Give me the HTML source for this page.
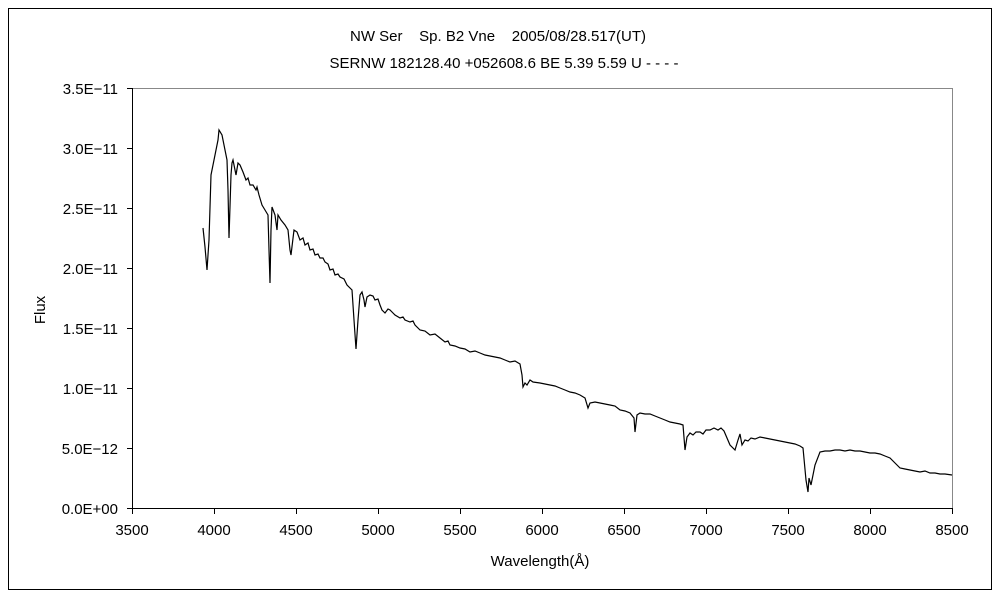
<!DOCTYPE html>
<html><head><meta charset="utf-8"><style>body{margin:0;background:#fff}</style></head><body>
<svg width="1000" height="600" xmlns="http://www.w3.org/2000/svg" font-family="Liberation Sans, sans-serif" font-size="15">
<rect x="0" y="0" width="1000" height="600" fill="#fff"/>
<rect x="8.5" y="8.5" width="983" height="581" fill="none" stroke="#000"/>
<rect x="132.5" y="88.5" width="820" height="420" fill="none" stroke="#888"/>
<line x1="132.5" y1="88" x2="132.5" y2="509" stroke="#000"/>
<line x1="132" y1="508.5" x2="953" y2="508.5" stroke="#000"/>
<g stroke="#000">
<line x1="127" y1="88.5" x2="132" y2="88.5"/><line x1="127" y1="148.5" x2="132" y2="148.5"/><line x1="127" y1="208.5" x2="132" y2="208.5"/><line x1="127" y1="268.5" x2="132" y2="268.5"/><line x1="127" y1="328.5" x2="132" y2="328.5"/><line x1="127" y1="388.5" x2="132" y2="388.5"/><line x1="127" y1="448.5" x2="132" y2="448.5"/><line x1="127" y1="508.5" x2="132" y2="508.5"/>
<line x1="132.5" y1="508" x2="132.5" y2="514"/><line x1="214.5" y1="508" x2="214.5" y2="514"/><line x1="296.5" y1="508" x2="296.5" y2="514"/><line x1="378.5" y1="508" x2="378.5" y2="514"/><line x1="460.5" y1="508" x2="460.5" y2="514"/><line x1="542.5" y1="508" x2="542.5" y2="514"/><line x1="624.5" y1="508" x2="624.5" y2="514"/><line x1="706.5" y1="508" x2="706.5" y2="514"/><line x1="788.5" y1="508" x2="788.5" y2="514"/><line x1="870.5" y1="508" x2="870.5" y2="514"/><line x1="952.5" y1="508" x2="952.5" y2="514"/>
</g>
<g text-anchor="end">
<text x="118" y="94">3.5E−11</text><text x="118" y="154">3.0E−11</text><text x="118" y="214">2.5E−11</text><text x="118" y="274">2.0E−11</text><text x="118" y="334">1.5E−11</text><text x="118" y="394">1.0E−11</text><text x="118" y="454">5.0E−12</text><text x="118" y="514">0.0E+00</text>
</g>
<g text-anchor="middle">
<text x="132" y="535">3500</text><text x="214" y="535">4000</text><text x="296" y="535">4500</text><text x="378" y="535">5000</text><text x="460" y="535">5500</text><text x="542" y="535">6000</text><text x="624" y="535">6500</text><text x="706" y="535">7000</text><text x="788" y="535">7500</text><text x="870" y="535">8000</text><text x="952" y="535">8500</text>
<text x="540" y="566">Wavelength(Å)</text>
<text x="498" y="41" style="white-space:pre" xml:space="preserve">NW Ser    Sp. B2 Vne    2005/08/28.517(UT)</text>
<text x="504" y="68" style="white-space:pre" xml:space="preserve">SERNW 182128.40 +052608.6 BE 5.39 5.59 U - - - -</text>
<text transform="translate(45,310) rotate(-90)">Flux</text>
</g>
<polyline fill="none" stroke="#000" stroke-width="1.2" points="203,228 205,247 207,270 209,240 211,175 213,165 216,150 218,140 219,130 222,135 225,150 227,160 228,190 229,238 231,175 232,163 233,160 236,175 238,163 240,165 243,172 246,180 248,178 250,185 253,185 256,190 257,187 259,195 262,205 265,210 268,215 269,250 270,283 271,230 272,207 275,215 277,230 278,215 281,220 285,225 288,230 290,250 291,255 294,230 297,232 300,240 303,238 305,245 308,243 310,250 313,249 315,255 318,254 320,258 323,258 325,262 328,264 330,270 333,269 335,275 338,274 340,277 344,279 347,285 352,290 354,320 356,349 358,320 360,295 362,292 364,300 365,307 367,297 370,295 373,296 375,300 378,299 380,305 382,310 385,313 388,309 390,310 393,313 395,315 400,318 403,317 405,320 410,322 413,321 415,325 420,330 425,331 430,335 435,334 440,338 445,342 448,341 450,345 455,346 460,348 465,349 470,352 475,351 480,353 485,355 490,356 495,357 500,358 505,360 510,362 515,361 520,364 522,375 523,387 525,383 527,385 530,380 533,382 540,383 545,384 550,385 555,386 560,388 565,390 570,392 575,393 580,395 585,398 588,408 590,403 595,402 600,403 605,404 610,405 615,406 620,410 625,411 630,413 634,418 635,432 637,415 640,413 645,414 650,414 655,416 660,418 665,420 670,422 675,423 680,424 683,425 685,450 687,437 690,433 693,435 696,432 700,432 703,434 706,430 710,430 714,428 718,430 721,428 724,431 730,445 735,450 738,440 740,434 742,445 745,440 748,441 751,438 755,439 760,437 765,438 770,439 775,440 780,441 785,442 790,443 795,444 800,446 803,448 806,480 808,492 809,478 811,485 815,465 820,452 825,451 830,451 835,450 840,450 845,451 850,450 855,451 860,451 865,452 870,453 875,453 880,454 885,456 890,458 895,463 900,468 905,469 910,470 915,471 920,472 925,471 930,473 935,473 940,474 945,474 952,475"/>
</svg>
</body></html>
